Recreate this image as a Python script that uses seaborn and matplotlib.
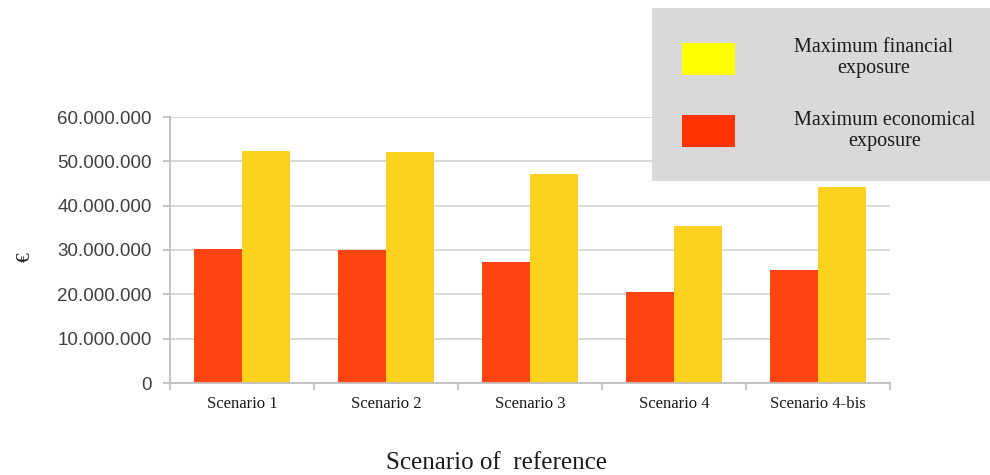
import matplotlib
matplotlib.use("Agg")
import matplotlib.pyplot as plt
import matplotlib.patches as mpatches
from matplotlib.ticker import FuncFormatter, FixedLocator
import seaborn as sns
import pandas as pd

scenarios = ["Scenario 1", "Scenario 2", "Scenario 3", "Scenario 4", "Scenario 4-bis"]
economical = [30.3e6, 30.1e6, 27.3e6, 20.5e6, 25.5e6]
financial = [52.4e6, 52.1e6, 47.2e6, 35.4e6, 44.2e6]
series_labels = ["Maximum economical\nexposure", "Maximum financial\nexposure"]
y_ticks = [0, 10e6, 20e6, 30e6, 40e6, 50e6, 60e6]

df = pd.DataFrame({
    "scenario": scenarios * 2,
    "value": economical + financial,
    "series": [series_labels[0]] * len(scenarios) + [series_labels[1]] * len(scenarios),
})

sns.set_theme(style="white")
plt.rcParams["font.family"] = ["Liberation Serif", "DejaVu Serif"]

bar_colors = {series_labels[0]: "#ff4411", series_labels[1]: "#ffd21f"}
legend_colors = {series_labels[0]: "#ff3300", series_labels[1]: "#ffff00"}

fig = plt.figure(figsize=(9.9, 4.75), dpi=100)
ax = fig.add_axes([170 / 990, 1 - 383 / 475, 720 / 990, (383 - 117) / 475])

sns.barplot(data=df, x="scenario", y="value", hue="series", palette=bar_colors,
            width=0.66, saturation=1, ax=ax, legend=False, linewidth=0)

ax.set_xlim(-0.5, len(scenarios) - 0.5)
ax.set_ylim(0, 60e6)
ax.yaxis.set_major_locator(FixedLocator(y_ticks))
ax.yaxis.set_major_formatter(FuncFormatter(lambda v, p: f"{int(v):,}".replace(",", ".")))
ax.yaxis.grid(True, color="#d4d4d4", linewidth=1.3)
ax.set_axisbelow(True)

for side in ["top", "right"]:
    ax.spines[side].set_visible(False)
for side in ["left", "bottom"]:
    ax.spines[side].set_color("#bfbfbf")
    ax.spines[side].set_linewidth(1.3)

ax.tick_params(axis="y", which="major", left=True, length=5, width=1.3, color="#bfbfbf",
               pad=8, labelsize=13.5, labelcolor="#404040")
for lbl in ax.get_yticklabels():
    lbl.set_fontfamily(["Liberation Sans", "DejaVu Sans"])

ax.set_xticks(range(len(scenarios)))
ax.set_xticklabels(scenarios)
ax.set_xticks([i - 0.5 for i in range(len(scenarios) + 1)], minor=True)
ax.tick_params(axis="x", which="major", bottom=False, pad=3, labelsize=12, labelcolor="#1a1a1a")
ax.tick_params(axis="x", which="minor", bottom=True, length=5, width=1.3, color="#bfbfbf")

ax.set_xlabel("")
ax.set_ylabel("")
fig.text(25 / 990, 1 - 257 / 475, "€", rotation=90, ha="center", va="center",
         fontsize=14, color="#1a1a1a")
fig.text(496 / 990, 1 - 463 / 475, "Scenario of  reference", ha="center", va="center",
         fontsize=18, color="#1a1a1a")

handles = [mpatches.Patch(facecolor=legend_colors[s], edgecolor="none") for s in series_labels[::-1]]
leg = fig.legend(handles, series_labels[::-1], loc="upper left",
                 bbox_to_anchor=(652 / 990, 1 - 8 / 475, 338 / 990, 0.0), mode="expand",
                 frameon=True, fancybox=False, fontsize=14.5, handlelength=2.6,
                 handleheight=2.05, handletextpad=2.95, labelspacing=1.6, borderpad=1.5,
                 borderaxespad=0)
leg.get_frame().set_facecolor("#d9d9d9")
leg.get_frame().set_edgecolor("none")
leg.get_frame().set_alpha(1)
for t in leg.get_texts():
    t.set_multialignment("center")
    t.set_linespacing(1.15)
    t.set_color("#1a1a1a")

fig.savefig("out.png", dpi=100)
